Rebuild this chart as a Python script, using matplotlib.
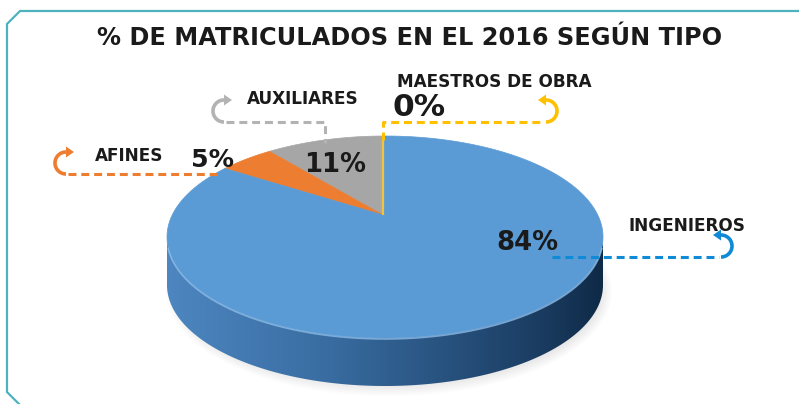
import numpy as np
import matplotlib
matplotlib.use('Agg')
import matplotlib.pyplot as plt
from matplotlib.patches import Polygon, Ellipse
from matplotlib.colors import LinearSegmentedColormap

# datos: matriculados 2016 por tipo (en %)
categorias = ['MAESTROS DE OBRA', 'AUXILIARES', 'AFINES', 'INGENIEROS']
valores = [0, 11, 5, 84]
colores = ['#f2c43c', '#a6a6a6', '#ed7d31', '#5b9bd5']
colores_guia = ['#ffc000', '#b3b3b3', '#ee7d2f', '#0f8ad6']
titulo = '% DE MATRICULADOS EN EL 2016 SEGÚN TIPO'

# geometria del pastel (pixeles, eje y hacia abajo)
CX, CY, A, B = 385, 237, 218, 101
AX, AY = 383, 215      # vertice de las porciones
PROF = 48

fig = plt.figure(figsize=(7.99, 4.04), dpi=100)
ax = fig.add_axes([0, 0, 1, 1])
ax.set_xlim(0, 799)
ax.set_ylim(404, 0)
ax.axis('off')


def borde(theta):
    # punto del borde de la elipse en la direccion theta desde el vertice
    t = np.radians(theta)
    d = np.array([np.cos(t), np.sin(t)])
    p0 = np.array([(AX - CX) / A, (CY - AY) / B])
    pd = p0 @ d
    s = -pd + np.sqrt(pd ** 2 - (p0 @ p0 - 1))
    u, v = p0 + s * d
    return CX + A * u, CY - B * v


# sombra suave
for k in range(8):
    ax.add_patch(Ellipse((CX + 4, CY + PROF + 6), 2 * A + 10 - k * 3, 2 * B + 8 - k * 3,
                         color='#8a8a8a', alpha=0.025, lw=0, zorder=1))

# lateral con degradado
phi = np.radians(np.linspace(180, 360, 200))
xs = CX + A * np.cos(phi)
ys = CY - B * np.sin(phi)
lado = np.vstack([np.column_stack([xs, ys]),
                  np.column_stack([xs[::-1], ys[::-1] + PROF])])
poly_lado = Polygon(lado, closed=True, facecolor='none', edgecolor='none', zorder=2)
ax.add_patch(poly_lado)
cmap = LinearSegmentedColormap.from_list('lado', [(0, '#4d86c0'), (0.35, '#3a6ea3'),
                                                  (0.6, '#2a5684'), (0.85, '#1b3d62'),
                                                  (1, '#0f2a47')])
grad = np.linspace(0, 1, 256)[None, :]
im = ax.imshow(grad, cmap=cmap, extent=(CX - A, CX + A, CY + B + PROF, CY - B),
               aspect='auto', zorder=2)
im.set_clip_path(poly_lado)

# cara superior: porciones
angulos = 90 + np.concatenate([[0], np.cumsum(valores)]) * 3.6
for i, (v, c) in enumerate(zip(valores, colores)):
    a0, a1 = angulos[i], angulos[i + 1]
    if v == 0:
        x1, y1 = borde(a0)
        ax.plot([AX, x1], [AY, y1], color=c, lw=1.6, zorder=4, solid_capstyle='butt')
        continue
    ts = np.linspace(a0, a1, max(int(a1 - a0) * 2, 4))
    pts = [(AX, AY)] + [borde(t) for t in ts]
    ax.add_patch(Polygon(pts, closed=True, facecolor=c, edgecolor=c, lw=0.5, zorder=3))

# brillo del canto
phi2 = np.radians(np.linspace(186, 354, 200))
ax.plot(CX + A * np.cos(phi2), CY - B * np.sin(phi2) + 1, color='#8dbbe6', lw=1.2,
        alpha=0.8, zorder=4)


def rizo(cx, cy, r, lado_izq, color):
    if lado_izq:
        f = np.radians(np.linspace(90, 270, 60))
    else:
        f = np.radians(np.linspace(-90, 90, 60))
    ax.plot(cx + r * np.cos(f), cy - r * np.sin(f), color=color, lw=2.6, zorder=5,
            solid_capstyle='butt')
    s = 1 if lado_izq else -1
    ax.add_patch(Polygon([(cx + s * 8, cy - r), (cx, cy - r - 5.5), (cx, cy - r + 5.5)],
                         closed=True, color=color, lw=0, zorder=5))


guia = dict(lw=2.2, linestyle=(0, (2.6, 1.6)), zorder=5, solid_capstyle='butt')

# MAESTROS DE OBRA
ax.plot([383, 383, 544], [140, 122, 122], color=colores_guia[0], **guia)
rizo(546, 111, 11, False, colores_guia[0])
# AUXILIARES
ax.plot([226, 325, 325], [122, 122, 143], color=colores_guia[1], **guia)
rizo(224, 111, 11, True, colores_guia[1])
# AFINES
ax.plot([68, 222], [174, 174], color=colores_guia[2], **guia)
rizo(66, 163, 11, True, colores_guia[2])
# INGENIEROS
ax.plot([552, 719], [257, 257], color=colores_guia[3], **guia)
rizo(721, 246, 11, False, colores_guia[3])

# textos
tc = '#1a1a1a'
fb = dict(fontweight='bold', color=tc, zorder=6)
nombres_pos = [(397, 82), (247, 99), (95, 156), (629, 226)]
pct_pos = [(392, 107, 22.5), (304, 165.5, 18.6), (191, 160, 18.2), (496, 243.5, 18.6)]
for nom, v, (nx, ny), (px, py, fs) in zip(categorias, valores, nombres_pos, pct_pos):
    ax.text(nx, ny, nom, fontsize=12.2, ha='left', va='center', **fb)
    ax.text(px, py, f'{v}%', fontsize=fs, ha='left', va='center', **fb)

ax.text(410, 38, titulo, fontsize=17.3, ha='center', va='center', **fb)

# marco
marco = '#4fb3bf'
ax.plot([799, 20, 7, 7, 19], [11, 11, 24, 392, 404], color=marco, lw=1.6, zorder=7,
        solid_joinstyle='miter', clip_on=False)

fig.savefig('out.png', dpi=100)
